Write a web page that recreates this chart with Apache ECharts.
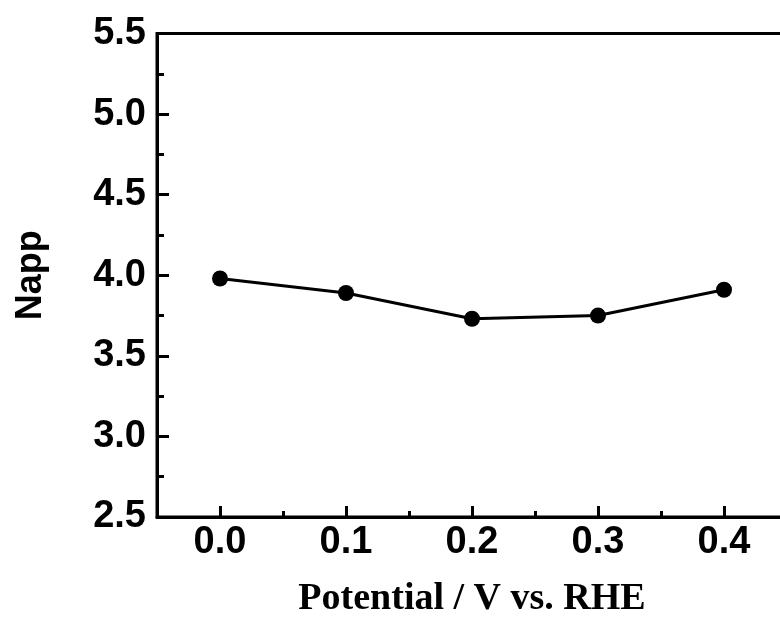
<!DOCTYPE html>
<html>
<head>
<meta charset="utf-8">
<script src="https://cdn.jsdelivr.net/npm/echarts@6/dist/echarts.min.js"></script>
<style>html,body{margin:0;padding:0;background:#fff}#c{width:780px;height:619px}</style>
</head>
<body>
<div id="c"></div>
<script>
const potentials = [0.0, 0.1, 0.2, 0.3, 0.4];
const napp = [3.98, 3.89, 3.73, 3.75, 3.91];
const xMajorTicks = [0.0, 0.1, 0.2, 0.3, 0.4];
const xMinorTicks = [0.05, 0.15, 0.25, 0.35];
const yMajorTicks = [2.5, 3.0, 3.5, 4.0, 4.5, 5.0, 5.5];
const yMinorTicks = [2.75, 3.25, 3.75, 4.25, 4.75, 5.25];
const xTitle = 'Potential / V vs. RHE';
const yTitle = 'Napp';

const chart = echarts.init(document.getElementById('c'), null, {renderer: 'canvas'});
const gridPos = {left: 157, top: 33.5, right: -7, bottom: 102, outerBoundsMode: 'none', containLabel: false};
const labelFont = {fontFamily: 'Liberation Sans, Arial, sans-serif', fontWeight: 'bold', fontSize: 38, color: '#000'};

function tickX(gridIndex, values, len) {
  return {
    type: 'value', gridIndex: gridIndex, min: -0.05, max: 0.45, interval: 0.05, z: 10,
    axisLine: {show: false, onZero: false},
    axisTick: {show: true, inside: true, length: len, lineStyle: {color: '#000', width: 3}, customValues: values},
    axisLabel: {show: false}, splitLine: {show: false}
  };
}
function tickY(gridIndex, values, len) {
  return {
    type: 'value', gridIndex: gridIndex, min: 2.5, max: 5.5, interval: 0.25, z: 10,
    axisLine: {show: false, onZero: false},
    axisTick: {show: true, inside: true, length: len, lineStyle: {color: '#000', width: 3}, customValues: values},
    axisLabel: {show: false}, splitLine: {show: false}
  };
}

chart.setOption({
  animation: false,
  grid: [
    Object.assign({show: true, borderColor: '#000', borderWidth: 3, backgroundColor: 'transparent'}, gridPos),
    Object.assign({show: false}, gridPos),
    Object.assign({show: false}, gridPos)
  ],
  xAxis: [
    {
      type: 'value', gridIndex: 0, min: -0.05, max: 0.45, interval: 0.05,
      axisLine: {show: true, onZero: false, lineStyle: {color: '#000', width: 3}},
      axisTick: {show: false},
      axisLabel: Object.assign({margin: 7, customValues: xMajorTicks, formatter: v => v.toFixed(1)}, labelFont),
      splitLine: {show: false},
      name: xTitle, nameLocation: 'middle', nameGap: 63,
      nameTextStyle: {fontFamily: 'Liberation Serif, Times New Roman, serif', fontWeight: 'bold', fontSize: 38, color: '#000'}
    },
    tickX(1, xMajorTicks, 11),
    tickX(2, xMinorTicks, 6)
  ],
  yAxis: [
    {
      type: 'value', gridIndex: 0, min: 2.5, max: 5.5, interval: 0.5,
      axisLine: {show: true, onZero: false, lineStyle: {color: '#000', width: 3}},
      axisTick: {show: false},
      axisLabel: Object.assign({margin: 11, customValues: yMajorTicks, formatter: v => v.toFixed(1)}, labelFont),
      splitLine: {show: false},
      name: yTitle, nameLocation: 'middle', nameGap: 108, nameRotate: 90,
      nameTextStyle: {fontFamily: 'Liberation Sans, Arial, sans-serif', fontWeight: 'bold', fontSize: 36, color: '#000'}
    },
    tickY(1, yMajorTicks, 12),
    tickY(2, yMinorTicks, 7)
  ],
  series: [{
    type: 'line', xAxisIndex: 0, yAxisIndex: 0,
    data: potentials.map((p, i) => [p, napp[i]]),
    symbol: 'circle', symbolSize: 16,
    lineStyle: {color: '#000', width: 3},
    itemStyle: {color: '#000'}
  }]
});
</script>
</body>
</html>
